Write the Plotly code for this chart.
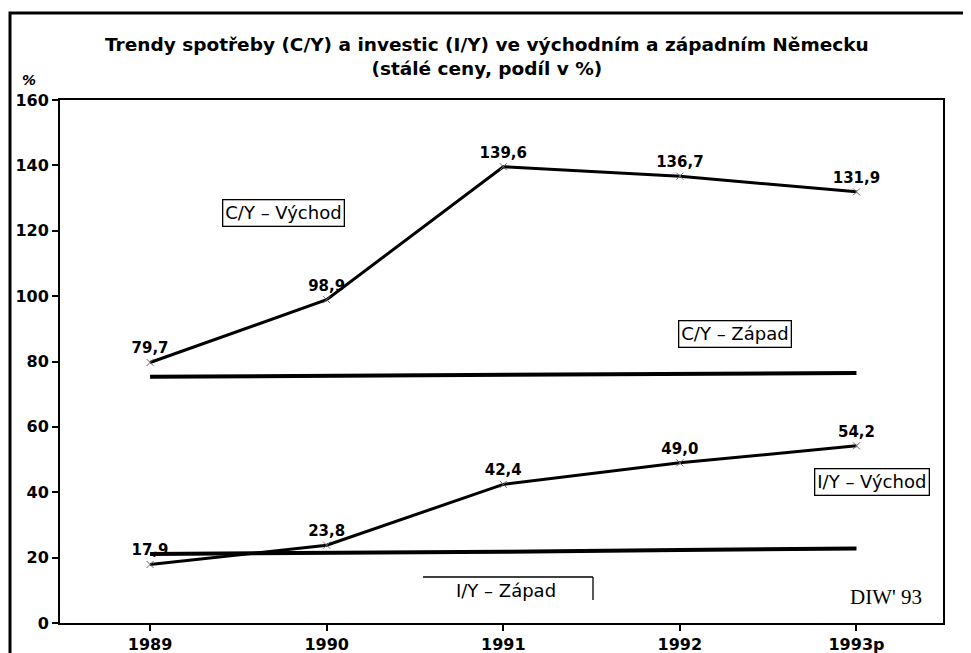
import plotly.graph_objects as go

# ── Data ──────────────────────────────────────────────────────────────────────
YEARS = ["1989", "1990", "1991", "1992", "1993p"]

CY_EAST = [79.7, 98.9, 139.6, 136.7, 131.9]
CY_WEST = [75.3, 75.6, 75.9, 76.2, 76.5]
IY_EAST = [17.9, 23.8, 42.4, 49.0, 54.2]
IY_WEST = [21.1, 21.3, 21.8, 22.3, 22.8]

CY_EAST_TEXT = ["79,7", "98,9", "139,6", "136,7", "131,9"]
IY_EAST_TEXT = ["17,9", "23,8", "42,4", "49,0", "54,2"]

TITLE = ("Trendy spotřeby (C/Y) a investic (I/Y) ve východním a západním Německu"
         "<br>(stálé ceny, podíl v %)")

# ── Layout geometry ───────────────────────────────────────────────────────────
# The page body has an 8px margin, so the figure is drawn 8px in from the
# window corner; positions below are window pixels, converted via px().
OFF = 8
W, H = 971 - OFF, 653 - OFF
L, R, T, B = 60 - OFF, 943 - OFF, 100 - OFF, 623 - OFF
SANS = "DejaVu Sans"


def px(x, y):
    """Window pixel position -> paper coordinates."""
    return (x - OFF - L) / (R - L), (B - (y - OFF)) / (B - T)


fig = go.Figure()

for vals in (CY_WEST, IY_WEST):
    fig.add_trace(go.Scatter(
        x=YEARS, y=vals, mode="lines",
        line=dict(color="black", width=4),
        hoverinfo="skip",
    ))

for vals, txt in ((CY_EAST, CY_EAST_TEXT), (IY_EAST, IY_EAST_TEXT)):
    fig.add_trace(go.Scatter(
        x=YEARS, y=vals, mode="lines+markers+text",
        line=dict(color="black", width=3),
        marker=dict(symbol="x-thin-open", size=7, color="#666",
                    line=dict(color="#666", width=1)),
        text=txt, textposition="top center",
        textfont=dict(family=SANS, size=15, color="black", weight="bold"),
        hoverinfo="skip",
    ))

# ── Series labels ─────────────────────────────────────────────────────────────
box_labels = [
    ("C/Y – Východ", 283, 213),
    ("C/Y – Západ", 735, 334),
    ("I/Y – Východ", 872, 482),
]
annotations = []
for text, x, y in box_labels:
    ax, ay = px(x, y)
    annotations.append(dict(
        text=text, x=ax, y=ay, xref="paper", yref="paper", showarrow=False,
        xanchor="center", yanchor="middle",
        font=dict(family=SANS, size=18, color="black"),
        bordercolor="black", borderwidth=1.3, borderpad=2, bgcolor="white",
    ))

ax, ay = px(506, 590)
annotations.append(dict(
    text="I/Y – Západ", x=ax, y=ay, xref="paper", yref="paper", showarrow=False,
    xanchor="center", yanchor="middle",
    font=dict(family=SANS, size=18, color="black"),
))

ax, ay = px(886, 597)
annotations.append(dict(
    text="DIW' 93", x=ax, y=ay, xref="paper", yref="paper", showarrow=False,
    xanchor="center", yanchor="middle",
    font=dict(family="Liberation Serif", size=21, color="black"),
))

ax, ay = px(487, 56)
annotations.append(dict(
    text=TITLE, x=ax, y=ay, xref="paper", yref="paper", showarrow=False,
    xanchor="center", yanchor="middle",
    font=dict(family=SANS, size=18.5, color="black", weight="bold"),
))

ax, ay = px(29, 80)
annotations.append(dict(
    text="<i>%</i>", x=ax, y=ay, xref="paper", yref="paper", showarrow=False,
    xanchor="center", yanchor="middle",
    font=dict(family=SANS, size=14, color="black", weight="bold"),
))

# Half-open frame around "I/Y – Západ" and the outer page frame
x0, y0 = px(423, 577)
x1, y1 = px(593, 600)
f0x, f0y = px(10, 13)
f1x, f1y = px(967, 700)
shapes = [
    dict(type="line", xref="paper", yref="paper", x0=x0, y0=y0, x1=x1, y1=y0,
         line=dict(color="black", width=1.3)),
    dict(type="line", xref="paper", yref="paper", x0=x1, y0=y0, x1=x1, y1=y1,
         line=dict(color="black", width=1.3)),
    dict(type="rect", xref="paper", yref="paper", x0=f0x, y0=f1y, x1=f1x, y1=f0y,
         line=dict(color="black", width=3)),
]

axis_common = dict(
    showline=True, linecolor="black", linewidth=2, mirror=True,
    ticks="outside", ticklen=6, tickwidth=1.5, tickcolor="black",
    showgrid=False, zeroline=False,
    tickfont=dict(family=SANS, size=16, color="black", weight="bold"),
)

fig.update_layout(
    width=W, height=H,
    margin=dict(l=L, r=W - R, t=T, b=H - B, autoexpand=False),
    paper_bgcolor="white", plot_bgcolor="white",
    showlegend=False,
    annotations=annotations,
    shapes=shapes,
    xaxis=dict(type="category", range=[-0.51, 4.49], **axis_common),
    yaxis=dict(range=[0, 160], dtick=20, **axis_common),
)

fig.write_html("out.html")
